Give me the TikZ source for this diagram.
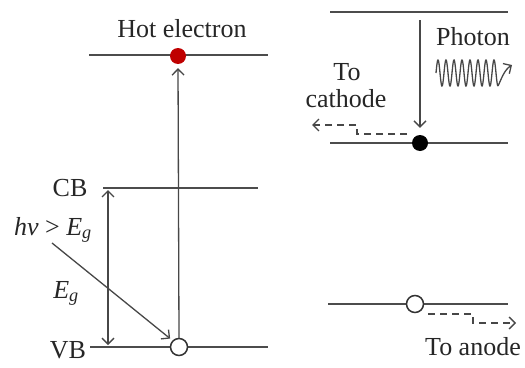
\documentclass[tikz,border=0pt]{standalone}
\usepackage{fontspec}
\setmainfont{Liberation Serif}
\usetikzlibrary{arrows.meta}
\begin{document}
\begin{tikzpicture}[x=1pt,y=-1pt,
  lvl/.style={line width=1.6pt, draw=black!70},
  con/.style={line width=1.3pt, draw=black!72},
  tip/.style={-{Straight Barb[length=6pt,width=12pt,line width=1.3pt]}},
  tips/.style={{Straight Barb[length=6pt,width=12pt,line width=1.3pt]}-{Straight Barb[length=6pt,width=12pt,line width=1.3pt]}},
  lbl/.style={font=\fontsize{26}{29}\selectfont, text=black!85, inner sep=0pt, anchor=base},
  dashc/.style={con, line width=1.4pt, dash pattern=on 7pt off 5pt},
  hole/.style={circle, draw=black!80, line width=1.5pt, fill=white, minimum size=17pt, inner sep=0pt},
  elec/.style={circle, minimum size=16pt, inner sep=0pt}
]
\useasboundingbox (0,0) rectangle (525,367);

% ---------- left: levels ----------
\coordinate (hotL) at (89,55);  \coordinate (hotR) at (268,55);
\coordinate (cbL)  at (103,188); \coordinate (cbR)  at (258,188);
\coordinate (vbL)  at (90,347);  \coordinate (vbR)  at (268,347);
\draw[lvl] (hotL) -- (hotR);
\draw[lvl] (cbL) -- (cbR);
\draw[lvl] (vbL) -- (vbR);

\node[elec, fill=red!75!black] (hot) at (178,56) {};
\node[hole] (hole) at (179,347) {};
\draw[con, tip, shorten >=4pt] (hole.north) -- (hot.south);

% band gap arrow
\coordinate (egT) at (108,190); \coordinate (egB) at (108,345);
\draw[con, tips] (egT) -- (egB);

% photon absorption arrow
\coordinate (hvS) at (52,243);
\draw[con, tip, shorten >=3pt] (hvS) -- (hole.north west);

% labels
\node[lbl] (hotlbl) at (182,37) {Hot electron};
\node[lbl] (cblbl) at (70,196) {CB};
\node[lbl] (vblbl) at (68,358) {VB};
\node[lbl] (hvlbl) at (53,235) {\textit{hν} > \textit{E}\textsubscript{\textit{g}}};
\node[lbl] (eglbl) at (66,298) {\textit{E}\textsubscript{\textit{g}}};

% ---------- right: upper ----------
\coordinate (tL) at (330,12); \coordinate (tR) at (508,12);
\coordinate (bL) at (330,143); \coordinate (bR) at (508,143);
\draw[lvl] (tL) -- (tR);
\draw[lvl] (bL) -- (bR);
\node[elec, fill=black] (edot) at (420,143) {};
\coordinate (dS) at (420,20);
\draw[con, tip, shorten >=7pt] (dS) -- (edot.north);

\node[lbl] (phlbl) at (473,45) {Photon};
% photon wave
\draw[con, line width=1.3pt]
  plot[domain=0:62, samples=200, smooth] ({436+\x},{73-13*sin(\x*45)});
\coordinate (wE) at (498,86);
\draw[con, line width=1.3pt, tip] (wE) .. controls (501,80) and (504,70) .. (512,65);

\node[lbl] (tolbl) at (347,80) {To};
\node[lbl] (catlbl) at (346,107) {cathode};
\coordinate (c0) at (407,134);
\coordinate (c1) at (357,134); \coordinate (c2) at (357,125); \coordinate (cE) at (312,125);
\draw[dashc, tip] (c0) -- (c1) -- (c2) -- (cE);

% ---------- right: lower ----------
\coordinate (aL) at (328,304); \coordinate (aR) at (508,304);
\draw[lvl] (aL) -- (aR);
\node[hole] (hole2) at (415,304) {};
\coordinate (a0) at (428,314); \coordinate (a1) at (473,314);
\coordinate (a2) at (473,323); \coordinate (aE) at (516,323);
\draw[dashc, tip] (a0) -- (a1) -- (a2) -- (aE);
\node[lbl] (anlbl) at (473,355) {To anode};
\end{tikzpicture}
\end{document}
